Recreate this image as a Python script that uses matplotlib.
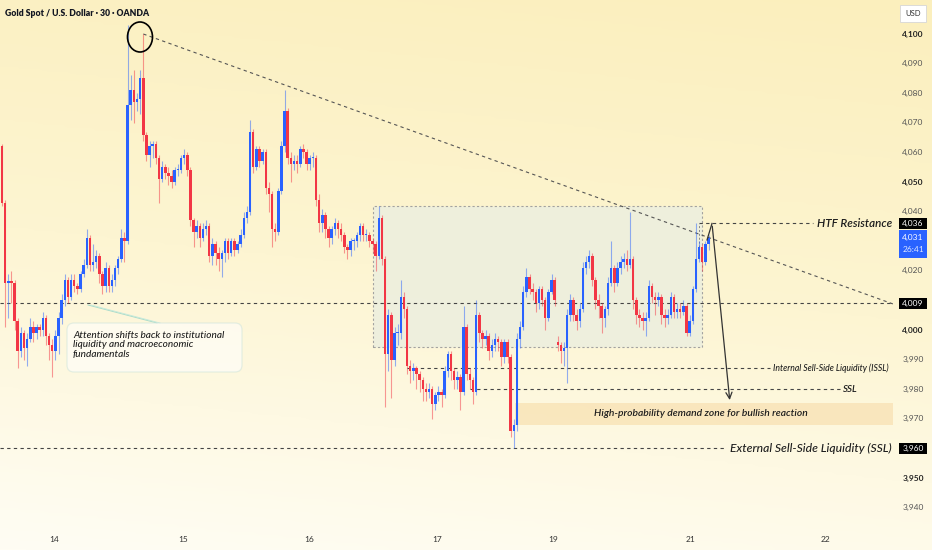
import numpy as np
import matplotlib.pyplot as plt
import matplotlib.transforms as mtrans
from matplotlib.patches import Rectangle, Ellipse, FancyBboxPatch
from matplotlib.colors import LinearSegmentedColormap

plt.rcParams['font.family'] = ['Lato', 'DejaVu Sans']

# --- данные свечей (30 мин) ---
first_open = 4062
closes = [
    4043, 4016, 4016.5, 4016, 4003, 3993, 3999, 3994, 3997, 4001,
    3999, 4001, 4000, 4004, 3998, 3995, 3993, 3998, 4004, 4010,
    4017, 4011, 4017, 4015, 4014, 4019, 4022, 4031, 4022, 4023,
    4025, 4019, 4015, 4021, 4015, 4017, 4021, 4024, 4031, 4030,
    4076, 4081, 4077, 4078, 4085, 4066, 4059, 4062, 4063, 4058,
    4051, 4055, 4053, 4052, 4050, 4054, 4054, 4058, 4059, 4054,
    4037, 4033, 4035, 4031, 4034, 4035, 4025, 4029, 4026, 4024,
    4026, 4030, 4026, 4030, 4027, 4029, 4032, 4038, 4040, 4067,
    4055, 4061, 4057, 4060, 4048, 4046, 4034, 4033, 4047, 4062,
    4074, 4058, 4056, 4057, 4056, 4061, 4060, 4056, 4058, 4058,
    4044, 4036, 4039, 4034, 4031, 4034, 4036, 4034, 4032, 4028,
    4027, 4030, 4030, 4032, 4035, 4032, 4032, 4030, 4029, 4025,
    4038, 4024, 3992, 4005, 3990, 3999, 3999, 4011, 4007, 3988,
    3986, 3987, 3985, 3983, 3980, 3979, 3980, 3975, 3978, 3979,
    3978, 3986, 3992, 3986, 3983, 3984, 3979, 4001, 3985, 3983,
    3979, 4005, 3999, 3997, 3998, 3993, 3995, 3997, 3996, 3991,
    3996, 3991, 3966, 3968, 3997, 4001, 4013, 4018, 4014, 4013,
    4009, 4014, 4010, 4004, 4013, 4017, 4010, 3995, 3993, 3994,
    4005, 4010, 4005, 4003, 4007, 4021, 4023, 4025, 4017, 4010,
    4008, 4004, 4007, 4016, 4021, 4016, 4021, 4023, 4024, 4022,
    4024, 4010, 4005, 4004, 4003, 4004, 4015, 4011, 4010, 4011,
    4005, 4004, 4005, 4011, 4006, 4007, 4006, 4008, 3999, 4003,
    4014, 4024, 4028, 4023, 4029, 4031,
]
highs = [
    4063, 4044, 4019, 4020, 4017, 4004, 4001, 4000, 3999, 4004,
    4003, 4002, 4002, 4006, 4005, 3999, 3997, 4000, 4006, 4012,
    4019, 4018, 4019, 4019, 4016, 4020, 4024, 4034, 4032, 4029,
    4027, 4026, 4020, 4023, 4022, 4019, 4022, 4025, 4034, 4033,
    4103, 4086, 4088, 4080, 4088, 4100, 4067, 4064, 4064, 4064,
    4059, 4057, 4056, 4055, 4054, 4055, 4056, 4059, 4061, 4060,
    4055, 4038, 4037, 4036, 4036, 4037, 4036, 4031, 4030, 4028,
    4027, 4031, 4031, 4031, 4031, 4030, 4034, 4040, 4042, 4071,
    4068, 4062, 4062, 4061, 4061, 4050, 4047, 4036, 4048, 4064,
    4081, 4075, 4060, 4059, 4059, 4062, 4063, 4061, 4059, 4060,
    4059, 4046, 4041, 4040, 4035, 4035, 4038, 4037, 4036, 4033,
    4029, 4031, 4031, 4033, 4036, 4036, 4034, 4033, 4031, 4030,
    4042, 4039, 4025, 4007, 4006, 4001, 4002, 4017, 4013, 4008,
    3990, 3989, 3988, 3986, 3984, 3982, 3982, 3981, 3979, 3981,
    3980, 3988, 3993, 3993, 3987, 3986, 3985, 4008, 4002, 3987,
    3984, 4010, 4006, 4000, 4000, 3999, 3997, 3999, 3998, 3997,
    3997, 3997, 3992, 3970, 3999, 4003, 4015, 4021, 4019, 4016,
    4014, 4015, 4015, 4011, 4014, 4019, 4018, 3998, 3996, 3996,
    4007, 4012, 4011, 4007, 4009, 4023, 4025, 4027, 4026, 4018,
    4012, 4009, 4008, 4018, 4030, 4022, 4023, 4025, 4026, 4027,
    4040, 4025, 4011, 4007, 4006, 4006, 4017, 4016, 4013, 4013,
    4012, 4007, 4007, 4013, 4012, 4009, 4009, 4010, 4009, 4005,
    4015, 4036, 4030, 4029, 4030, 4032,
]
lows = [
    4042, 4001, 4004, 4009, 4000, 3987, 3991, 3990, 3988, 3996,
    3996, 3997, 3998, 3998, 3995, 3990, 3984, 3990, 3992, 4002,
    4008, 4009, 4010, 4013, 4012, 4013, 4018, 4021, 4020, 4020,
    4021, 4016, 4012, 4013, 4013, 4013, 4015, 4019, 4023, 4023,
    4029, 4071, 4070, 4074, 4073, 4064, 4057, 4055, 4058, 4056,
    4043, 4050, 4051, 4049, 4048, 4049, 4052, 4053, 4056, 4052,
    4035, 4028, 4031, 4028, 4030, 4032, 4023, 4022, 4022, 4020,
    4018, 4023, 4024, 4025, 4025, 4026, 4028, 4031, 4036, 4039,
    4053, 4054, 4055, 4056, 4046, 4040, 4028, 4030, 4032, 4046,
    4060, 4056, 4050, 4054, 4053, 4055, 4058, 4054, 4054, 4055,
    4042, 4033, 4033, 4031, 4028, 4029, 4032, 4031, 4030, 4026,
    4024, 4025, 4027, 4028, 4030, 4030, 4030, 4028, 4026, 4020,
    4024, 4022, 3974, 3986, 3977, 3988, 3995, 3997, 4004, 3985,
    3982, 3983, 3980, 3979, 3976, 3976, 3977, 3970, 3973, 3976,
    3974, 3977, 3984, 3983, 3980, 3980, 3973, 3978, 3983, 3980,
    3975, 3978, 3996, 3994, 3995, 3990, 3991, 3993, 3993, 3988,
    3989, 3989, 3964, 3960, 3966, 3994, 4000, 4011, 4012, 4010,
    4006, 4007, 4008, 4000, 4003, 4012, 4008, 3993, 3989, 3988,
    3982, 4003, 4003, 4000, 4001, 4006, 4019, 4021, 4015, 4007,
    4004, 3999, 4001, 4005, 4015, 4013, 4015, 4019, 4021, 4020,
    4021, 4007, 4002, 4001, 4000, 3998, 4003, 4009, 4005, 4008,
    4002, 4001, 4002, 4004, 4004, 4004, 4004, 4005, 3998, 3998,
    4002, 4013, 4023, 4020, 4022, 4027,
]
open_gaps = {177: 3996}  # открытие после выходных

day_labels = ['14', '15', '16', '17', '19', '21', '22']
day_pos = [16.6, 57.6, 97.8, 138.5, 175.5, 219.4, 262.4]

# 4,030 / 4,010 / 3,960 закрыты плашками цен, их на шкале не видно
price_ticks = [4100, 4090, 4080, 4070, 4060, 4050, 4040, 4020,
               4000, 3990, 3980, 3970, 3950, 3940]
bold_ticks = [4100, 4050, 4000, 3950]

swing_high = 4100
htf_res = 4036
last_price = 4031
mid_level = 4009
issl = 3987
ssl = 3980
ext_ssl = 3960
zone_top, zone_bot = 3975.4, 3968.0
range_top, range_bot = 4042, 3994.3
trend_end = 4008.8

BLUE = '#2962ff'
RED = '#f23645'


def px(x):
    # пиксель по x -> индекс свечи
    return (x - 2) / 3.14


def pr(y):
    # пиксель по y -> цена
    return 4100 - (y - 34) / 2.96


fig = plt.figure(figsize=(9.32, 5.5), dpi=100)
ax = fig.add_axes([0, 0, 1, 1])
ax.set_axis_off()
x0, x1 = px(0), px(932)
y0, y1 = pr(550), pr(0)

# фон - мягкий жёлтый градиент
cmap = LinearSegmentedColormap.from_list('bg', ['#fffdf4', '#fdf5d2', '#fbefbd'])
gy = np.linspace(0, 1, 200)[:, None]
gx = np.linspace(0, 1, 200)[None, :]
grad = np.clip(gy * 0.85 + gx * 0.15, 0, 1)
ax.imshow(grad, extent=(x0, x1, y0, y1), origin='lower', cmap=cmap,
          aspect='auto', zorder=0, interpolation='bilinear')

# свечи
c = np.array(closes, dtype=float)
o = np.concatenate([[first_open], c[:-1]])
for k, v in open_gaps.items():
    o[k] = v
h = np.maximum(np.array(highs, dtype=float), np.maximum(o, c))
l = np.minimum(np.array(lows, dtype=float), np.minimum(o, c))
idx = np.arange(len(c))
cols = np.where(c >= o, BLUE, RED)
ax.vlines(idx, l, h, colors=cols, lw=0.8, alpha=0.5, zorder=3)
ax.bar(idx, np.maximum(np.abs(c - o), 0.45), bottom=np.minimum(o, c),
       width=0.8, color=cols, zorder=4, linewidth=0)

dash = (0, (3, 3))

# зона консолидации
ax.add_patch(Rectangle((px(373), range_bot), px(702) - px(373), range_top - range_bot,
                       facecolor='#edefde', edgecolor='#9a9a9a', lw=0.8,
                       linestyle=(0, (2, 2)), alpha=0.9, zorder=1))
# зона спроса
ax.add_patch(Rectangle((px(515), zone_bot), px(893) - px(515), zone_top - zone_bot,
                       facecolor='#f9e4b8', edgecolor='none', alpha=0.85, zorder=1.5))

# уровни
ax.hlines(mid_level, x0, px(893), colors='#444444', lw=0.8, linestyles=dash, zorder=2)
ax.hlines(htf_res, px(699), px(813), colors='#444444', lw=0.8, linestyles=dash, zorder=2)
ax.vlines(px(699), pr(247), htf_res, colors='#888888', lw=0.7, linestyles=(0, (2, 2)), zorder=2)
ax.hlines(issl, px(407), px(770), colors='#444444', lw=0.8, linestyles=dash, zorder=2)
ax.hlines(ssl, px(470), px(840), colors='#444444', lw=0.8, linestyles=dash, zorder=2)
ax.hlines(ext_ssl, x0, px(726), colors='#444444', lw=0.8, linestyles=dash, zorder=2)

# трендовая линия от максимума
ax.plot([45, px(893)], [swing_high, trend_end], color='#555555', lw=0.8,
        linestyle=dash, zorder=2)
ax.add_patch(Ellipse((px(140), pr(37)), 25 / 3.14, 30 / 2.96, fill=False,
                     edgecolor='black', lw=1.2, zorder=6))

# стрелка прогноза
ax.plot([px(707), px(712)], [pr(240), htf_res], color='#333333', lw=0.9, zorder=6)
ax.annotate('', xy=(px(730), zone_top), xytext=(px(712), htf_res),
            arrowprops=dict(arrowstyle='->,head_length=0.45,head_width=0.22',
                            color='#333333', lw=0.9), zorder=6)

# подписи уровней
ax.text(px(817), htf_res, 'HTF Resistance', fontsize=8.4, style='italic',
        fontweight='semibold', color='#1e1e1e', va='center', zorder=7)
ax.text(px(773), issl, 'Internal Sell-Side Liquidity (ISSL)', fontsize=6.2,
        style='italic', fontweight='medium', color='#1e1e1e', va='center', zorder=7)
ax.text(px(843), ssl, 'SSL', fontsize=7, style='italic', fontweight='semibold',
        color='#1e1e1e', va='center', zorder=7)
ax.text(px(730), ext_ssl, 'External Sell-Side Liquidity (SSL)', fontsize=8.7,
        style='italic', fontweight='medium', color='#1e1e1e', va='center', zorder=7)
ax.text(px(701), (zone_top + zone_bot) / 2, 'High-probability demand zone for bullish reaction',
        fontsize=7.4, style='italic', fontweight='semibold', color='#1e1e1e',
        ha='center', va='center', zorder=7)

# комментарий в рамке (координаты в дюймах)
inch = fig.dpi_scale_trans
fig.add_artist(FancyBboxPatch((0.67, 1.78), 1.75, 0.49,
                              boxstyle='round,pad=0,rounding_size=0.07',
                              facecolor='white', alpha=0.55, edgecolor='#cfe4dc',
                              lw=0.9, transform=inch, zorder=5))
fig.add_artist(plt.Line2D([0.88, 1.57], [2.45, 2.27], color='#a9dcca', lw=0.7,
                          transform=inch))
fig.add_artist(plt.Line2D([0.91, 1.60], [2.45, 2.27], color='#c4e8da', lw=0.6,
                          transform=inch))
fig.text(0.73, 2.19, 'Attention shifts back to institutional\nliquidity and macroeconomic\nfundamentals',
         transform=inch, fontsize=7.2, style='italic', fontweight='medium', color='#1e1e1e',
         va='top', ha='left', linespacing=1.05, zorder=6)

# заголовок
fig.text(5 / 932, 1 - 13 / 550, 'Gold Spot / U.S. Dollar · 30 · OANDA', fontsize=6.2,
         fontweight='heavy', color='#131722', va='center', ha='left')

# правая шкала цен
blend = mtrans.blended_transform_factory(ax.transAxes, ax.transData)
xr = 913 / 932
for t in price_ticks:
    ax.text(xr, t, f'{t:,}', transform=blend, fontsize=6, ha='center', va='center',
            color='#222222' if t in bold_ticks else '#555555',
            fontweight='bold' if t in bold_ticks else 'normal', zorder=7)

bw = 28 / 932
for val in (htf_res, mid_level, ext_ssl):
    ax.add_patch(Rectangle((899 / 932, val - 1.9), bw, 3.8, transform=blend,
                           facecolor='black', edgecolor='none', zorder=8))
    ax.text(xr, val, f'{val:,}', transform=blend, fontsize=6, ha='center',
            va='center', color='white', zorder=9)
ax.add_patch(Rectangle((899 / 932, pr(258)), bw, pr(230) - pr(258), transform=blend,
                       facecolor=BLUE, edgecolor='none', zorder=8))
ax.text(xr, pr(237), f'{last_price:,}', transform=blend, fontsize=6, ha='center',
        va='center', color='white', zorder=9)
ax.text(xr, pr(250), '26:41', transform=blend, fontsize=6, ha='center',
        va='center', color='#dfe7ff', zorder=9)

ax.add_patch(Rectangle((900 / 932, pr(22)), 26 / 932, pr(5) - pr(22), transform=blend,
                       facecolor='white', edgecolor='#d6d6d6', lw=0.6, zorder=8))
ax.text(xr, pr(13.5), 'USD', transform=blend, fontsize=5.5, ha='center', va='center',
        color='#333333', zorder=9)

# подписи дней
blend_x = mtrans.blended_transform_factory(ax.transData, ax.transAxes)
for lab, pos in zip(day_labels, day_pos):
    ax.text(pos, 10 / 550, lab, transform=blend_x, fontsize=6, ha='center',
            va='center', color='#333333')

ax.set_xlim(x0, x1)
ax.set_ylim(y0, y1)
fig.savefig('out.png', dpi=100)
